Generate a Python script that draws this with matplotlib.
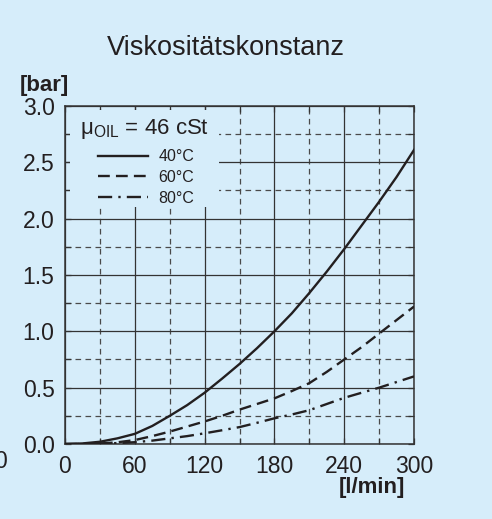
import numpy as np
import matplotlib
matplotlib.use("Agg")
import matplotlib.pyplot as plt
from matplotlib.patches import Rectangle

plt.rcParams['font.family'] = ['Liberation Sans', 'DejaVu Sans']
plt.rcParams['mathtext.default'] = 'regular'

# Durchfluss [l/min] und Druckverlust [bar] bei 46 cSt
flow = [0, 15, 30, 45, 60, 75, 90, 105, 120, 135, 150,
        165, 180, 195, 210, 225, 240, 255, 270, 285, 300]
dp_40 = [0.0, 0.005, 0.02, 0.05, 0.09, 0.16, 0.25, 0.345, 0.455, 0.58, 0.71,
         0.85, 1.0, 1.16, 1.34, 1.53, 1.73, 1.94, 2.15, 2.37, 2.61]
dp_60 = [0.0, 0.0, 0.004, 0.015, 0.035, 0.07, 0.11, 0.155, 0.2, 0.25, 0.305,
         0.355, 0.405, 0.47, 0.54, 0.64, 0.75, 0.86, 0.98, 1.1, 1.22]
dp_80 = [0.0, 0.0, 0.004, 0.008, 0.016, 0.03, 0.05, 0.07, 0.095, 0.122, 0.15,
         0.188, 0.228, 0.262, 0.3, 0.355, 0.41, 0.455, 0.5, 0.55, 0.6]
labels = ['40°C', '60°C', '80°C']

x_ticks = [0, 60, 120, 180, 240, 300]
y_ticks = [0.0, 0.5, 1.0, 1.5, 2.0, 2.5, 3.0]

bg = '#d6edfa'
ink = '#231f20'

fig = plt.figure(figsize=(4.92, 5.19), dpi=100, facecolor=bg)
ax = fig.add_axes([0.1321, 0.1445, 0.7094, 0.6513])
ax.set_facecolor(bg)

ax.plot(flow, dp_40, color=ink, lw=1.7, label=labels[0], zorder=3)
ax.plot(flow, dp_60, color=ink, lw=1.7, ls=(0, (5, 2.6)), label=labels[1], zorder=3)
ax.plot(flow, dp_80, color=ink, lw=1.7, ls=(0, (6, 2.6, 1, 2.6)), label=labels[2], zorder=3)

ax.set_xlim(0, 300)
ax.set_ylim(0, 3.0)
ax.set_xticks(x_ticks)
ax.set_xticks(np.arange(30, 300, 60), minor=True)
ax.set_yticks(y_ticks)
ax.set_yticks(np.arange(0.25, 3.0, 0.5), minor=True)
ax.set_yticklabels([f'{v:.1f}' for v in y_ticks])

ax.set_axisbelow(True)
ax.grid(which='major', color='#333333', lw=0.9, ls='-')
ax.grid(which='minor', color='#4a4a4a', lw=0.9, ls=(0, (4.5, 3.5)))
ax.tick_params(which='both', direction='in', top=True, right=True,
               length=4, width=0.9, color='#333333', labelsize=16.5,
               labelcolor=ink)
ax.tick_params(axis='y', pad=7.5)
ax.tick_params(axis='x', pad=8)
for s in ax.spines.values():
    s.set_color('#333333')
    s.set_linewidth(1.1)

# freie Fläche für die Legende (Gitter-Stummel am Rand bleiben sichtbar)
ax.add_patch(Rectangle((0.013, 0.70), 0.427, 0.287, transform=ax.transAxes,
                       facecolor=bg, edgecolor='none', zorder=1))

ax.text(0.043, 0.932, 'μ$_{OIL}$ = 46 cSt', transform=ax.transAxes,
        ha='left', va='center', fontsize=16, color=ink, zorder=4)
leg = ax.legend(loc='upper left', bbox_to_anchor=(0.095, 0.872), frameon=False,
                fontsize=11.5, handlelength=3.1, handletextpad=0.68,
                labelspacing=0.36, borderpad=0, borderaxespad=0)
for t in leg.get_texts():
    t.set_color(ink)
leg.set_zorder(4)

fig.text(0.46, 0.907, 'Viskositätskonstanz', ha='center', va='center',
         fontsize=19.5, color=ink)
fig.text(0.0407, 0.835, '[bar]', ha='left', va='center', fontsize=16,
         fontweight='bold', color=ink)
fig.text(0.823, 0.0615, '[l/min]', ha='right', va='center', fontsize=16,
         fontweight='bold', color=ink)
fig.text(-0.012, 0.11, '0', ha='left', va='center', fontsize=16.5, color=ink)

fig.savefig('out.png', dpi=100, facecolor=bg)
